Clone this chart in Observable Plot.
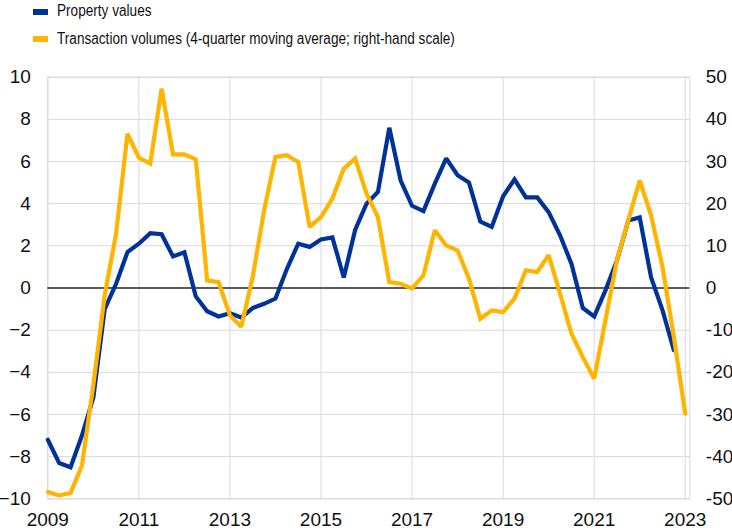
<!DOCTYPE html>
<html>
<head>
<meta charset="utf-8">
<script src="https://cdn.jsdelivr.net/npm/d3@7"></script>
<script src="https://cdn.jsdelivr.net/npm/@observablehq/plot@0.6"></script>
<style>
  html, body { margin: 0; padding: 0; background: #fff; }
  #wrap { width: 732px; height: 530px; position: relative; overflow: hidden; }
  #legend { position: relative; width: 732px; height: 60px; font-family: "Liberation Sans", Arial, sans-serif; font-size: 16px; color: #111; }
  .sw { position: absolute; left: 33px; width: 15px; height: 6px; }
  .lt { position: absolute; left: 57px; line-height: 16px; white-space: nowrap; transform: scaleX(0.85); transform-origin: 0 50%; }
  #chart svg { display: block; }
</style>
</head>
<body>
<div id="wrap">
  <div id="legend"></div>
  <div id="chart"></div>
</div>
<script>
// Quarterly periods (2009Q1 .. 2023Q1)
const periods = [
  "2009Q1","2009Q2","2009Q3","2009Q4","2010Q1","2010Q2","2010Q3","2010Q4",
  "2011Q1","2011Q2","2011Q3","2011Q4","2012Q1","2012Q2","2012Q3","2012Q4",
  "2013Q1","2013Q2","2013Q3","2013Q4","2014Q1","2014Q2","2014Q3","2014Q4",
  "2015Q1","2015Q2","2015Q3","2015Q4","2016Q1","2016Q2","2016Q3","2016Q4",
  "2017Q1","2017Q2","2017Q3","2017Q4","2018Q1","2018Q2","2018Q3","2018Q4",
  "2019Q1","2019Q2","2019Q3","2019Q4","2020Q1","2020Q2","2020Q3","2020Q4",
  "2021Q1","2021Q2","2021Q3","2021Q4","2022Q1","2022Q2","2022Q3","2022Q4",
  "2023Q1"
];
// Property values (left-hand scale, %), 2009Q1..2022Q4
const propertyValues = [
  -7.2, -8.3, -8.5, -7.0, -5.2, -1.0, 0.2, 1.7,
  2.1, 2.6, 2.55, 1.5, 1.7, -0.4, -1.1, -1.35,
  -1.2, -1.4, -0.95, -0.75, -0.5, 0.9, 2.1, 1.95,
  2.3, 2.4, 0.5, 2.75, 4.0, 4.55, 7.6, 5.1,
  3.9, 3.65, 4.95, 6.15, 5.35, 5.0, 3.15, 2.9,
  4.35, 5.15, 4.3, 4.3, 3.6, 2.5, 1.15, -0.95,
  -1.35, -0.1, 1.3, 3.2, 3.35, 0.5, -1.05, -2.95
];
// Transaction volumes (4-quarter moving average; right-hand scale, %), 2009Q1..2023Q1
const transactionVolumes = [
  -48.4, -49.2, -48.6, -42.1, -23.0, -1.7, 12.9, 36.6,
  30.9, 29.5, 47.3, 31.7, 31.7, 30.5, 1.8, 1.4,
  -6.5, -9.2, 2.6, 18.4, 31.1, 31.5, 29.9, 14.5,
  16.8, 21.2, 28.3, 30.7, 22.4, 16.8, 1.4, 1.0,
  -0.1, 3.0, 13.7, 10.1, 8.9, 2.2, -7.3, -5.3,
  -5.7, -2.5, 4.2, 3.8, 7.8, -1.3, -10.8, -16.4,
  -21.5, -7.5, 6.6, 16.1, 25.5, 17.2, 5.0, -11.6,
  -29.8
];
const seriesNames = ["Property values", "Transaction volumes (4-quarter moving average; right-hand scale)"];
const seriesColors = ["#003299", "#ffb400"];
const xTicks = [2009, 2011, 2013, 2015, 2017, 2019, 2021, 2023];
const yTicksLeft = [-10, -8, -6, -4, -2, 0, 2, 4, 6, 8, 10];
const rightFactor = 5; // right-hand scale = 5 x left-hand scale

const toT = p => +p.slice(0, 4) + (+p.slice(5) - 1) / 4;
const blue = propertyValues.map((v, i) => ({t: toT(periods[i]), v}));
const yellow = transactionVolumes.map((v, i) => ({t: toT(periods[i]), v: v / rightFactor}));

// Legend
const legend = document.getElementById("legend");
const legendTops = [[9.3, 3.1], [35.5, 31.3]];
seriesNames.forEach((name, i) => {
  const sw = document.createElement("div");
  sw.className = "sw";
  sw.style.top = legendTops[i][0] + "px";
  sw.style.background = seriesColors[i];
  legend.appendChild(sw);
  const tx = document.createElement("div");
  tx.className = "lt";
  tx.style.top = legendTops[i][1] + "px";
  tx.textContent = name;
  legend.appendChild(tx);
});

const grid = "#d9d9d9";
const chart = Plot.plot({
  width: 732,
  height: 470,
  marginTop: 16.7,
  marginBottom: 31.7,
  marginLeft: 47.3,
  marginRight: 42.7,
  style: {fontFamily: "'Liberation Sans', Arial, sans-serif", fontSize: "19px", color: "#111", background: "#fff"},
  x: {domain: [2009, 2023.1]},
  y: {domain: [-10, 10]},
  marks: [
    Plot.gridY(yTicksLeft, {stroke: grid, strokeOpacity: 1, strokeWidth: 1}),
    Plot.gridX(xTicks, {stroke: grid, strokeOpacity: 1, strokeWidth: 1}),
    Plot.frame({stroke: grid, strokeWidth: 1}),
    Plot.ruleY([0], {stroke: "#2b2b2b", strokeWidth: 1.6}),
    Plot.axisY(yTicksLeft, {anchor: "left", tickSize: 0, tickPadding: 17, label: null, fill: "#111"}),
    Plot.axisY(yTicksLeft, {anchor: "right", tickSize: 0, tickPadding: 16, label: null, tickFormat: d => String(d * rightFactor), fill: "#111"}),
    Plot.axisX(xTicks, {anchor: "bottom", tickSize: 0, tickPadding: 14, label: null, tickFormat: d => String(d), fill: "#111"}),
    Plot.line(blue, {x: "t", y: "v", stroke: seriesColors[0], strokeWidth: 4.2, strokeLinejoin: "miter", strokeMiterlimit: 2}),
    Plot.line(yellow, {x: "t", y: "v", stroke: seriesColors[1], strokeWidth: 4.2, strokeLinejoin: "miter", strokeMiterlimit: 2})
  ]
});
document.getElementById("chart").appendChild(chart);
</script>
</body>
</html>
